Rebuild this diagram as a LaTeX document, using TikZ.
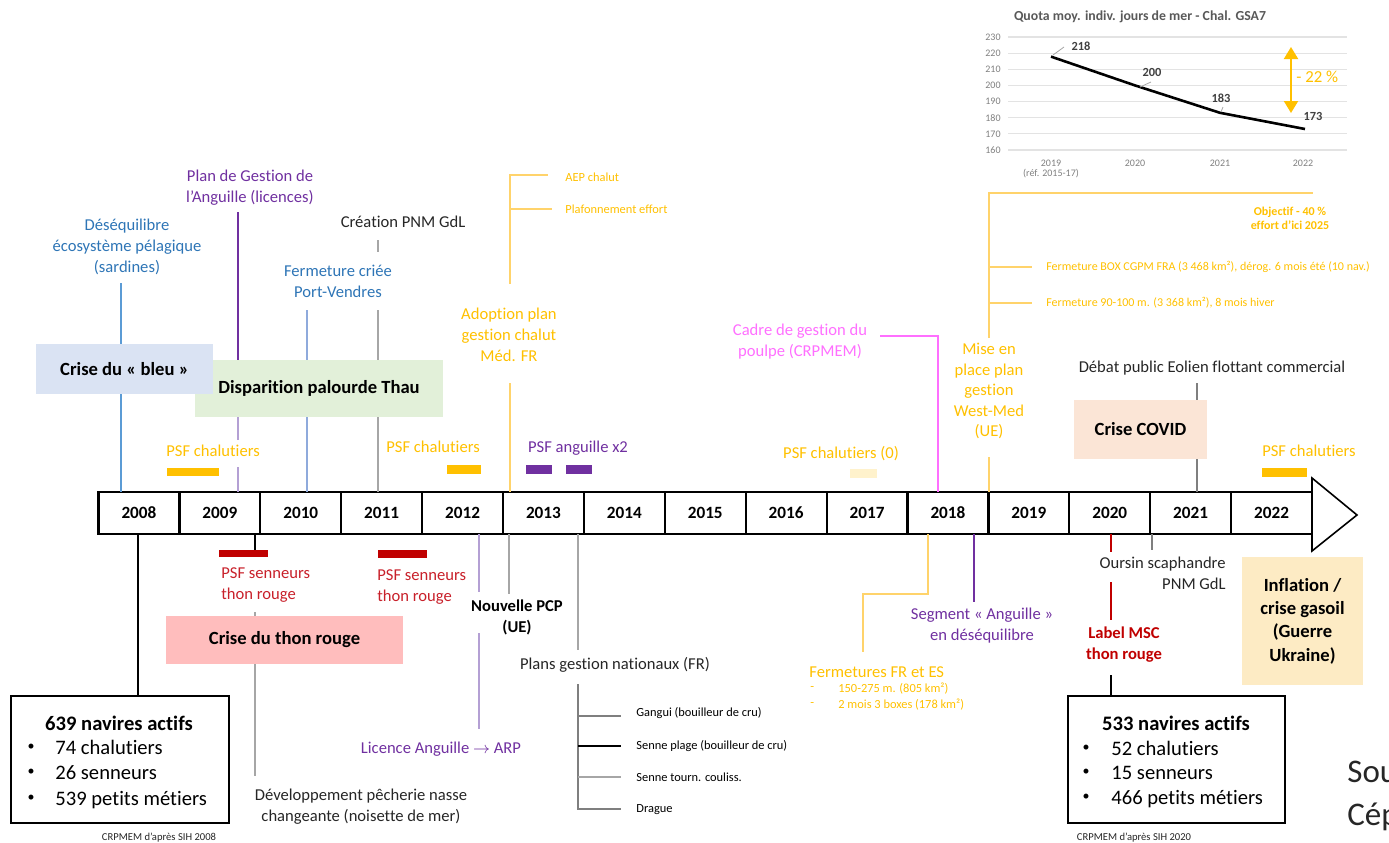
\documentclass[tikz,border=0pt]{standalone}
\usepackage{fontspec}
\setmainfont{Carlito}[Ligatures=CommonOff]
\usetikzlibrary{arrows.meta}
\definecolor{cBlue}{HTML}{2E75B6}
\definecolor{cBlueL}{HTML}{5B9BD5}
\definecolor{cBlueLL}{HTML}{8FAADC}
\definecolor{cPurple}{HTML}{7030A0}
\definecolor{cPurpleL}{HTML}{B4A0D4}
\definecolor{cOrange}{HTML}{FFC000}
\definecolor{cOrangeLn}{HTML}{FFD36B}
\definecolor{cRed}{HTML}{C00000}
\definecolor{cRedT}{HTML}{C8202A}
\definecolor{cPink}{HTML}{FF6FFF}
\definecolor{cGray}{HTML}{A6A6A6}
\definecolor{cGrayD}{HTML}{7F7F7F}
\definecolor{cDark}{HTML}{262626}
\definecolor{cGrid}{HTML}{E3E3E3}
\definecolor{cAxis}{HTML}{7F7F7F}
\definecolor{cTitle}{HTML}{595959}
\definecolor{cData}{HTML}{404040}
\definecolor{cBoxBlue}{HTML}{DAE3F3}
\definecolor{cBoxGreen}{HTML}{E2F0D9}
\definecolor{cBoxPink}{HTML}{FFBDBD}
\definecolor{cBoxCovid}{HTML}{FBE5D6}
\definecolor{cBoxInfl}{HTML}{FDEBC4}
\definecolor{cPale}{HTML}{FFF2CC}
\newcommand\myfs[2]{\fontsize{#1}{#2}\selectfont}
\begin{document}
\begin{tikzpicture}[x=0.5pt,y=-0.5pt,
  lbl/.style={inner sep=0pt, align=center, font=\myfs{8.3}{10.5}},
  sml/.style={inner sep=0pt, align=left, font=\myfs{6.2}{7.5}},
  bx/.style={inner sep=0pt, align=center, font=\bfseries\myfs{9.3}{11.7}},
  conn/.style={line width=0.8pt},
  blk/.style={line width=0.9pt, draw=black},
  bar/.style={inner sep=0pt, minimum height=4.5pt},
  yearcell/.style={draw, line width=1.1pt, inner sep=0pt, minimum width=40.45pt, minimum height=21pt, font=\bfseries\myfs{8.6}{10}},
  navbox/.style={draw, line width=1.2pt, inner sep=0pt, minimum height=63.5pt},
  navtxt/.style={inner sep=0pt, font=\myfs{10.3}{12}},
  bul/.style={inner sep=0pt, font=\myfs{7}{8}},
  srcnote/.style={inner sep=0pt, font=\myfs{5.3}{6.5}, text=cDark},
  grid/.style={draw=cGrid, line width=0.6pt},
  axl/.style={inner sep=0pt, font=\myfs{5}{6}, text=cAxis},
  datl/.style={inner sep=0pt, font=\bfseries\myfs{6.2}{7}, text=cData},
]
\useasboundingbox (0,0) rectangle (1389,842);

% ---------------- chart ----------------
\node[inner sep=0pt, font=\bfseries\myfs{6.9}{8}, text=cTitle] (ctitle) at (1140,17) {Quota moy. indiv. jours de mer - Chal. GSA7};
\foreach \val in {160,170,...,230} {
  \draw[grid] (1008,{150-(\val-160)*1.614}) -- (1347,{150-(\val-160)*1.614});
  \node[axl, anchor=east] (yl\val) at (1001,{150-(\val-160)*1.614}) {\val};
}
\node[axl] (xl19) at (1051,163) {2019};
\node[axl] (xl19r) at (1051,174) {(réf. 2015-17)};
\node[axl] (xl20) at (1135,163) {2020};
\node[axl] (xl21) at (1220,163) {2021};
\node[axl] (xl22) at (1303,163) {2022};
\coordinate (p19) at (1051,56.6);
\coordinate (p20) at (1135,85.4);
\coordinate (p21) at (1220,112.8);
\coordinate (p22) at (1305,129);
\draw[line width=1.3pt, line join=round] (p19) -- (p20) -- (p21) -- (p22);
\node[datl] (d19) at (1081,46) {218};
\node[datl] (d20) at (1152,72) {200};
\node[datl] (d21) at (1221,98) {183};
\node[datl] (d22) at (1313,116) {173};
\coordinate (l19a) at (1053,55); \coordinate (l19b) at (1064,47);
\coordinate (l20a) at (1140,87); \coordinate (l20b) at (1151,82);
\coordinate (l21a) at (1221,112); \coordinate (l21b) at (1223,107);
\draw[cGray, line width=0.4pt] (l19a) -- (l19b);
\draw[cGray, line width=0.4pt] (l20a) -- (l20b);
\draw[cGray, line width=0.4pt] (l21a) -- (l21b);
\coordinate (aTop) at (1291,47);
\coordinate (aBot) at (1291,113);
\draw[cOrange, line width=1pt, {Triangle[width=7pt,length=6pt]}-{Triangle[width=7pt,length=6pt]}] (aTop) -- (aBot);
\node[inner sep=0pt, anchor=west, text=cOrange, font=\myfs{8.4}{10}] (pct) at (1296,77) {- 22 \%};

% ---------------- timeline ----------------
\foreach \yr [count=\i from 0] in {2008,2009,...,2022}
  \node[yearcell] (y\yr) at ({98.5+80.9*(\i+0.5)},513) {\yr};
\coordinate (arT) at (1312,478);
\coordinate (arTip) at (1357,515);
\coordinate (arB) at (1312,551);
\draw[line width=0.8pt, fill=white] (arT) -- (arTip) -- (arB) -- cycle;

% ---------------- above: 2008-2011 ----------------
\node[lbl, text=cBlue] (des) at (127,247) {Déséquilibre\\écosystème pélagique\\(sardines)};
\coordinate (desA) at (121,283); \coordinate (desB) at (121,492);
\draw[conn, cBlueL] (desA) -- (desB);

\node[lbl, text=cPurple] (pga) at (250,188) {Plan de Gestion de\\l’Anguille (licences)};
\coordinate (pgaA) at (238,212); \coordinate (pgaM) at (238,415);
\coordinate (pgaM2) at (238,440); \coordinate (pgaM3) at (238,467);
\coordinate (pgaB) at (238,492);
\draw[conn, cPurple] (pgaA) -- (pgaM);
\draw[conn, cPurpleL] (pgaM) -- (pgaM2);
\draw[conn, cPurpleL] (pgaM3) -- (pgaB);

\node[lbl, text=cDark] (pnm) at (403,222) {Création PNM GdL};
\coordinate (pnmA) at (378,240); \coordinate (pnmA2) at (378,252);
\coordinate (pnmC) at (378,310); \coordinate (pnmB) at (378,492);
\draw[conn, cGray] (pnmA) -- (pnmA2);
\draw[conn, cGray] (pnmC) -- (pnmB);

\node[lbl, text=cBlue] (fcr) at (338,281) {Fermeture criée\\Port-Vendres};
\coordinate (fcrA) at (307,310); \coordinate (fcrB) at (307,492);
\draw[conn, cBlueLL] (fcrA) -- (fcrB);

\node[bx, fill=cBoxGreen, minimum width=124pt, minimum height=28.5pt] (thau) at (319,388.5) {Disparition palourde Thau};
\node[bx, fill=cBoxBlue, minimum width=88.5pt, minimum height=25pt] (bleu) at (124.5,369) {Crise du « bleu »};

\node[lbl, text=cOrange, anchor=west] (psf1) at (166,451) {PSF chalutiers};
\node[bar, fill=cOrange, minimum width=26pt, minimum height=4pt] (psfb1) at (193,472) {};
\node[lbl, text=cOrange, anchor=west] (psf2) at (386,447) {PSF chalutiers};
\node[bar, fill=cOrange, minimum width=17pt] (psfb2) at (464,469.5) {};

% ---------------- above: 2012-2018 ----------------
\node[lbl, text=cOrange] (adop) at (509,335) {Adoption plan\\gestion chalut\\Méd. FR};
\coordinate (adT) at (510,175); \coordinate (adT2) at (548,175);
\coordinate (adM) at (510,209); \coordinate (adM2) at (552,209);
\coordinate (adA) at (510,284);
\draw[conn, cOrangeLn] (adA) -- (adT) -- (adT2);
\draw[conn, cOrangeLn] (adM) -- (adM2);
\node[sml, text=cOrange, anchor=west] (aep) at (565,177) {AEP chalut};
\node[sml, text=cOrange, anchor=west] (plaf) at (565,209) {Plafonnement effort};
\coordinate (adB1) at (510,383); \coordinate (adB2) at (510,492);
\draw[conn, cOrangeLn] (adB1) -- (adB2);

\node[lbl, text=cPurple] (psfa) at (578,448) {PSF anguille x2};
\node[bar, fill=cPurple, minimum width=13pt] (psfab1) at (539,469.5) {};
\node[bar, fill=cPurple, minimum width=13pt] (psfab2) at (579,469.5) {};

\node[lbl, text=cPink] (poul) at (800,342) {Cadre de gestion du\\poulpe (CRPMEM)};
\coordinate (poA) at (880,336); \coordinate (poC) at (938,336); \coordinate (poB) at (938,492);
\draw[conn, cPink] (poA) -- (poC) -- (poB);

\node[lbl, text=cOrange] (psf0) at (841,454) {PSF chalutiers (0)};
\node[bar, fill=cPale, minimum width=13.5pt] (psfb0) at (863.5,473.5) {};

% ---------------- above: 2019-2022 ----------------
\node[lbl, text=cOrange, font=\myfs{8.3}{10.25}] (wm) at (989,391) {Mise en\\place plan\\gestion\\West-Med\\(UE)};
\coordinate (wmA) at (989,338); \coordinate (wmT) at (989,193); \coordinate (wmT2) at (1313,193);
\coordinate (wm1) at (989,267); \coordinate (wm1b) at (1032,267);
\coordinate (wm2) at (989,303); \coordinate (wm2b) at (1032,303);
\draw[conn, cOrangeLn] (wmA) -- (wmT) -- (wmT2);
\draw[conn, cOrangeLn] (wm1) -- (wm1b);
\draw[conn, cOrangeLn] (wm2) -- (wm2b);
\node[sml, text=cOrange, anchor=west, font=\myfs{6}{7}] (wmbox) at (1046,267) {Fermeture BOX CGPM FRA (3 468 km²), dérog. 6 mois été (10 nav.)};
\node[sml, text=cOrange, anchor=west, font=\myfs{6}{7}] (wm90) at (1046,303) {Fermeture 90-100 m. (3 368 km²), 8 mois hiver};
\node[inner sep=0pt, align=center, text=cOrange, font=\bfseries\myfs{6}{6.8}] (obj) at (1290,218.5) {Objectif - 40 \%\\effort d’ici 2025};
\coordinate (wmB1) at (989,457); \coordinate (wmB2) at (989,492);
\draw[conn, cOrangeLn] (wmB1) -- (wmB2);

\node[lbl, text=cDark] (deb) at (1212,368) {Débat public Eolien flottant commercial};
\coordinate (debA) at (1197,383); \coordinate (debB) at (1197,492);
\draw[conn, cGrayD] (debA) -- (debB);
\node[bx, fill=cBoxCovid, minimum width=66.5pt, minimum height=29.5pt] (covid) at (1140.5,429.5) {Crise COVID};

\node[lbl, text=cOrange] (psf3) at (1309,451) {PSF chalutiers};
\node[bar, fill=cOrange, minimum width=22.5pt] (psfb3) at (1284.5,472.5) {};

% ---------------- below: 2008-2012 ----------------
\coordinate (n08A) at (138,534); \coordinate (n08B) at (138,696);
\draw[blk] (n08A) -- (n08B);
\node[navbox, minimum width=109pt] (nav08) at (120,759.5) {};
\node[navtxt, font=\bfseries\myfs{10.3}{12}] (nav08t) at (119,723) {639 navires actifs};
\node[bul] (nav08b1) at (31,747) {•};
\node[bul] (nav08b2) at (31,772) {•};
\node[bul] (nav08b3) at (31,798) {•};
\node[navtxt, anchor=base west] (nav08l1) at (55,754) {74 chalutiers};
\node[navtxt, anchor=base west] (nav08l2) at (55,779) {26 senneurs};
\node[navtxt, anchor=base west] (nav08l3) at (55,805) {539 petits métiers};
\node[srcnote] (src08) at (159,838) {CRPMEM d’après SIH 2008};

\coordinate (r09A) at (255,534); \coordinate (r09B) at (255,550);
\draw[blk] (r09A) -- (r09B);
\node[bar, fill=cRed, minimum width=24.5pt, minimum height=3.5pt] (rb1) at (243.5,553.5) {};
\node[lbl, text=cRedT, align=left, anchor=west] (psfs1) at (221,585) {PSF senneurs\\thon rouge};
\coordinate (ctrA) at (255,612); \coordinate (ctrB) at (255,776);
\draw[conn, cGray] (ctrA) -- (ctrB);
\node[bx, fill=cBoxPink, minimum width=118.5pt, minimum height=24pt] (ctr) at (284.5,640) {Crise du thon rouge};
\node[lbl, text=cDark] (dev) at (361,807) {Développement pêcherie nasse\\changeante (noisette de mer)};

\node[bar, fill=cRed, minimum width=24.5pt, minimum height=4pt] (rb2) at (402.5,554) {};
\node[lbl, text=cRedT, align=left, anchor=west] (psfs2) at (377,587.5) {PSF senneurs\\thon rouge};

\coordinate (liA) at (479,534); \coordinate (liB) at (479,592);
\coordinate (liC) at (479,633); \coordinate (liD) at (479,729);
\draw[conn, cPurpleL] (liA) -- (liB);
\draw[conn, cPurpleL] (liC) -- (liD);
\node[lbl, text=cPurple] (lic) at (441,749) {Licence Anguille $\rightarrow$ ARP};

\coordinate (pcpA) at (509,534); \coordinate (pcpB) at (509,594);
\draw[conn, cGray] (pcpA) -- (pcpB);
\node[lbl, font=\bfseries\myfs{8.3}{10.5}] (pcp) at (517,617) {Nouvelle PCP\\(UE)};

% ---------------- below: plans nationaux ----------------
\coordinate (pnA) at (578,534); \coordinate (pnB) at (578,650);
\draw[conn, cGray] (pnA) -- (pnB);
\node[lbl, text=cDark] (pn) at (615,665) {Plans gestion nationaux (FR)};
\coordinate (brT) at (578,684);
\coordinate (br1) at (578,716); \coordinate (br1e) at (621,716);
\coordinate (br2) at (578,746); \coordinate (br2e) at (621,746);
\coordinate (br3) at (578,777); \coordinate (br3e) at (621,777);
\coordinate (br4) at (578,809); \coordinate (br4e) at (621,809);
\draw[conn, cGrayD] (brT) -- (br4) -- (br4e);
\draw[conn, cGrayD] (br1) -- (br1e);
\draw[conn, black] (br2) -- (br2e);
\draw[conn, cGray] (br3) -- (br3e);
\node[sml, anchor=west, text=black] (gang) at (636,713) {Gangui (bouilleur de cru)};
\node[sml, anchor=west, text=black] (senp) at (636,746) {Senne plage (bouilleur de cru)};
\node[sml, anchor=west, text=black] (sent) at (636,777) {Senne tourn. couliss.};
\node[sml, anchor=west, text=black] (drag) at (636,810) {Drague};

% ---------------- below: 2017-2018 ----------------
\coordinate (feA) at (928,534); \coordinate (feB) at (928,594);
\coordinate (feC) at (863,594); \coordinate (feD) at (863,652);
\draw[conn, cOrangeLn] (feA) -- (feB) -- (feC) -- (feD);
\node[lbl, text=cOrange, anchor=west] (fe) at (809,672) {Fermetures FR et ES};
\node[sml, text=cOrange, anchor=west] (fe1d) at (810,689) {-};
\node[sml, text=cOrange, anchor=west] (fe1) at (838,689) {150-275 m. (805 km²)};
\node[sml, text=cOrange, anchor=west] (fe2d) at (810,705) {-};
\node[sml, text=cOrange, anchor=west] (fe2) at (838,705) {2 mois 3 boxes (178 km²)};

\coordinate (sgA) at (974,534); \coordinate (sgB) at (974,602);
\draw[conn, cPurple] (sgA) -- (sgB);
\node[lbl, text=cPurple] (seg) at (982,625.5) {Segment « Anguille »\\en déséquilibre};

% ---------------- below: 2020-2022 ----------------
\coordinate (msA) at (1111,534); \coordinate (msB) at (1111,552);
\draw[conn, cRed] (msA) -- (msB);
\coordinate (ouA) at (1152,534); \coordinate (ouB) at (1152,550);
\draw[conn, cGrayD] (ouA) -- (ouB);
\node[lbl, text=cDark, align=right, anchor=north east] (our) at (1226,557) {Oursin scaphandre\\PNM GdL};
\coordinate (msC) at (1111,582); \coordinate (msD) at (1111,620);
\draw[conn, cRed] (msC) -- (msD);
\node[lbl, text=cRed, font=\bfseries\myfs{8.3}{10.5}] (msc) at (1124,645) {Label MSC\\thon rouge};
\coordinate (n20A) at (1111,675); \coordinate (n20B) at (1111,696);
\draw[blk] (n20A) -- (n20B);
\node[navbox, minimum width=108.5pt] (nav20) at (1176.5,759.5) {};
\node[navtxt, font=\bfseries\myfs{10.3}{12}] (nav20t) at (1176,723) {533 navires actifs};
\node[bul] (nav20b1) at (1086,748) {•};
\node[bul] (nav20b2) at (1086,772) {•};
\node[bul] (nav20b3) at (1086,797) {•};
\node[navtxt, anchor=base west] (nav20l1) at (1111,755) {52 chalutiers};
\node[navtxt, anchor=base west] (nav20l2) at (1111,779) {15 senneurs};
\node[navtxt, anchor=base west] (nav20l3) at (1111,804) {466 petits métiers};
\node[srcnote] (src20) at (1134,838) {CRPMEM d’après SIH 2020};

\node[bx, fill=cBoxInfl, minimum width=60.5pt, minimum height=64pt] (infl) at (1302.5,621) {Inflation /\\crise gasoil\\(Guerre\\Ukraine)};

\node[inner sep=0pt, anchor=base west, font=\myfs{16.5}{20}, text=cDark] (sou) at (1347,782) {Sou};
\node[inner sep=0pt, anchor=base west, font=\myfs{16.5}{20}, text=cDark] (cep) at (1347,825) {Cép};
\end{tikzpicture}
\end{document}
